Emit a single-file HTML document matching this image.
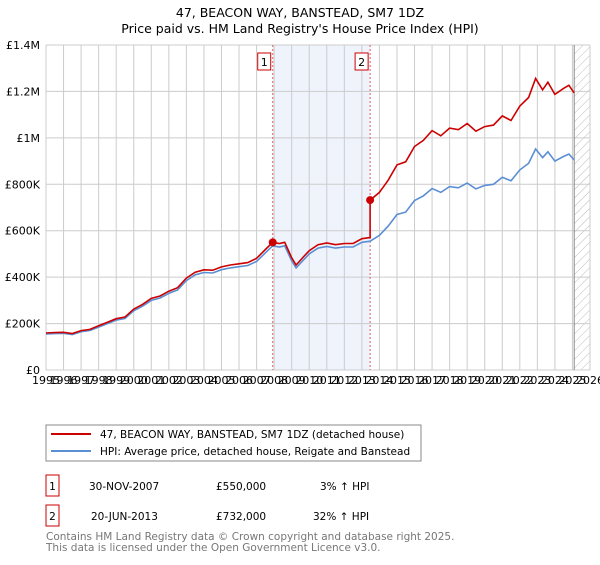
<!DOCTYPE html>
<html><head><meta charset="utf-8"><style>
body{margin:0;background:#fff;font-family:"Liberation Sans","DejaVu Sans",sans-serif;}
svg text{font-family:"DejaVu Sans","Liberation Sans",sans-serif;}
</style></head><body>
<svg id="c" width="600" height="560" xmlns="http://www.w3.org/2000/svg">
<defs><pattern id="hatch" width="6" height="6" patternUnits="userSpaceOnUse" patternTransform="rotate(45)"><line x1="0" y1="0" x2="0" y2="6" stroke="#bbb" stroke-width="1"/></pattern></defs>
<text x="300" y="17" text-anchor="middle" font-size="12.5">47, BEACON WAY, BANSTEAD, SM7 1DZ</text>
<text x="300" y="33" text-anchor="middle" font-size="12.5">Price paid vs. HM Land Registry's House Price Index (HPI)</text>
<g id="plot"></g>
<g>
<rect x="46" y="425" width="375" height="36" fill="#fff" stroke="#888"/>
<line x1="51" y1="434" x2="91" y2="434" stroke="#cc0000" stroke-width="2"/>
<text x="100" y="438" font-size="10.5">47, BEACON WAY, BANSTEAD, SM7 1DZ (detached house)</text>
<line x1="51" y1="451" x2="91" y2="451" stroke="#5b8fd4" stroke-width="2"/>
<text x="100" y="455" font-size="10.5">HPI: Average price, detached house, Reigate and Banstead</text>
</g>
<g font-size="10.5">
<rect x="46" y="475" width="13" height="21" fill="#fff" stroke="#cc0000"/>
<text x="52.5" y="490" text-anchor="middle">1</text>
<text x="89" y="490">30-NOV-2007</text><text x="216" y="490">£550,000</text><text x="320" y="490">3% ↑ HPI</text>
<rect x="46" y="505" width="13" height="21" fill="#fff" stroke="#cc0000"/>
<text x="52.5" y="520" text-anchor="middle">2</text>
<text x="91" y="520">20-JUN-2013</text><text x="216" y="520">£732,000</text><text x="313" y="520">32% ↑ HPI</text>
</g>
<text x="46" y="540" font-size="10.5" fill="#777">Contains HM Land Registry data © Crown copyright and database right 2025.</text>
<text x="46" y="551" font-size="10.5" fill="#777">This data is licensed under the Open Government Licence v3.0.</text>
</svg>
<script>
const hpiYears=[1995,1995.5,1996,1996.5,1997,1997.5,1998,1998.5,1999,1999.5,2000,2000.5,2001,2001.5,2002,2002.5,2003,2003.5,2004,2004.5,2005,2005.5,2006,2006.5,2007,2007.5,2007.92,2008.3,2008.6,2009.0,2009.25,2009.75,2010,2010.5,2011,2011.5,2012,2012.5,2013,2013.47,2014,2014.5,2015,2015.5,2016,2016.5,2017,2017.5,2018,2018.5,2019,2019.5,2020,2020.5,2021,2021.5,2022,2022.5,2022.9,2023.3,2023.6,2024,2024.5,2024.8,2025.1];
const hpiValues=[155,157,158,153,165,170,185,200,215,222,255,275,300,310,330,345,385,410,420,418,432,440,445,450,468,505,535,530,535,470,440,480,500,525,532,525,530,530,550,555,580,620,670,680,730,750,782,765,790,785,805,780,795,800,830,815,862,890,952,915,940,900,920,930,905];
const saleYears=[2007.92,2013.47];
const salePrices=[550,732];
const saleLabels=["1","2"];
const yTicks=[0,200,400,600,800,1000,1200,1400];
const yTickLabels=["£0","£200K","£400K","£600K","£800K","£1M","£1.2M","£1.4M"];
const xTicks=[];for(let y=1995;y<=2026;y++)xTicks.push(y);

const X0=46,X1=590,Y0=370,Y1=45;
const xs=v=>X0+(v-1995)/(2026-1995)*(X1-X0);
const ys=v=>Y0-v/1400*(Y0-Y1);
const NS="http://www.w3.org/2000/svg";
const g=document.getElementById('plot');
function mk(t,a){const e=document.createElementNS(NS,t);for(const k in a)e.setAttribute(k,a[k]);g.appendChild(e);return e;}

let e=mk('rect',{x:xs(saleYears[0]),y:Y1,width:xs(saleYears[1])-xs(saleYears[0]),height:Y0-Y1,fill:'#eef3fc'});


e=mk('rect',{x:xs(2025.1),y:Y1,width:X1-xs(2025.1),height:Y0-Y1,fill:'url(#hatch)'});


xTicks.forEach(t=>{
 const l=mk('line',{x1:xs(t),x2:xs(t),y1:Y1,y2:Y0,stroke:'#ccc','stroke-width':1});
 
 
 const tx=mk('text',{x:xs(t),y:384,'font-size':11,'text-anchor':'middle'});
 tx.textContent=t;
 
 
});
yTicks.forEach((t,i)=>{
 const l=mk('line',{x1:X0,x2:X1,y1:ys(t),y2:ys(t),stroke:'#ccc','stroke-width':1});
 
 
 const tx=mk('text',{x:40,y:ys(t)+4,'font-size':11,'text-anchor':'end'});
 tx.textContent=yTickLabels[i];
 
 
});
e=mk('line',{x1:xs(2025.1),x2:xs(2025.1),y1:Y1,y2:Y0,stroke:'#888','stroke-width':1});


saleYears.forEach((s,i)=>{
 const l=mk('line',{x1:xs(s),x2:xs(s),y1:Y1,y2:Y0,stroke:'#e06060','stroke-width':1,'stroke-dasharray':'2,2'});
 
 
 const r=mk('rect',{x:xs(s)-15,y:53,width:13,height:17,fill:'#fff',stroke:'#cc0000'});
 
 
 const tx=mk('text',{x:xs(s)-8.5,y:66,'font-size':11,'text-anchor':'middle'});
 tx.textContent=saleLabels[i];
 
 
});
function ratioAt(y){let r=salePrices[0]/535;for(let i=0;i<saleYears.length;i++){if(y>=saleYears[i]){let idx=hpiYears.findIndex(v=>v>=saleYears[i]);r=salePrices[i]/hpiValues[idx];}}return r;}
let hp=hpiYears.map((y,i)=>`${xs(y).toFixed(1)},${ys(hpiValues[i]).toFixed(1)}`).join(' ');
let pts=[];hpiYears.forEach((y,i)=>{
 let r=ratioAt(y);
 if(Math.abs(y-saleYears[1])<1e-6){pts.push([xs(y),ys(hpiValues[i]*(salePrices[0]/535))]);}
 pts.push([xs(y),ys(hpiValues[i]*r)]);
});
e=mk('polyline',{points:hp,fill:'none',stroke:'#5b8fd4','stroke-width':1.6});


e=mk('polyline',{points:pts.map(p=>p[0].toFixed(1)+','+p[1].toFixed(1)).join(' '),fill:'none',stroke:'#cc0000','stroke-width':1.6});


saleYears.forEach((s,i)=>{
 const c=mk('circle',{cx:xs(s),cy:ys(salePrices[i]),r:4,fill:'#cc0000'});
 
 
});
</script>
</body></html>
